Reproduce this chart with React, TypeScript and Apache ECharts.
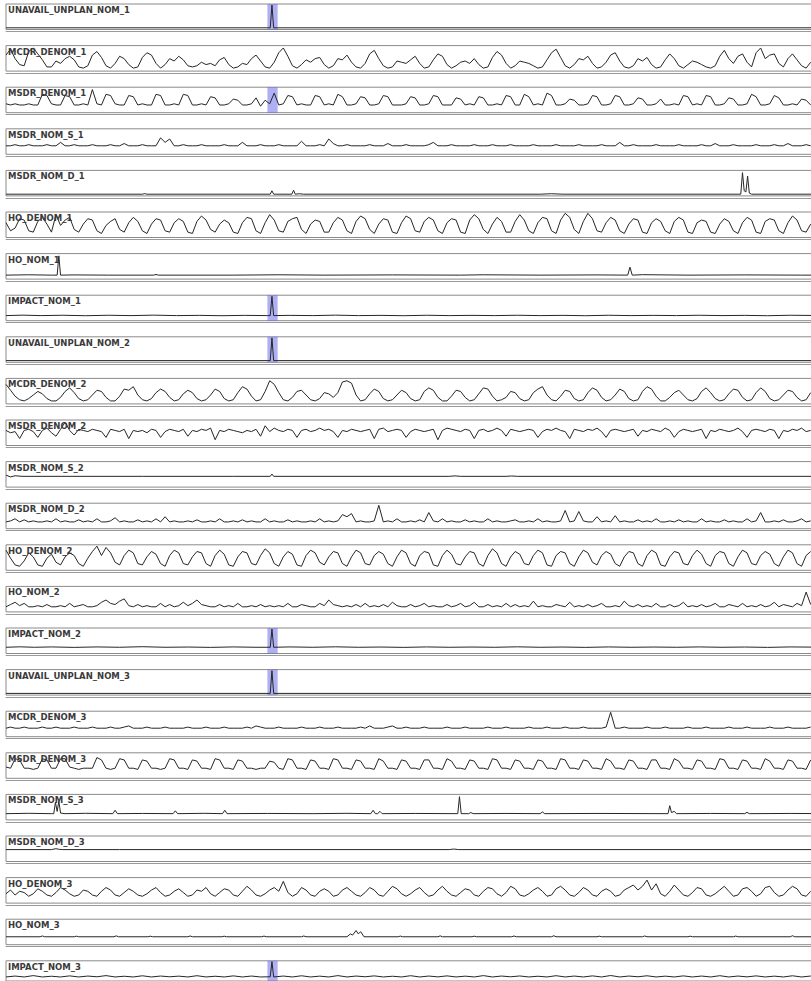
import React, { useEffect, useRef } from 'react';
import * as echarts from 'echarts';

// ---------- data ----------
const STEP = 4; // hours between samples in the dense series
const X_MAX = 725;
const BAND: [number, number] = [230, 239];

const PANEL_NAMES = [
  'UNAVAIL_UNPLAN_NOM_1', 'MCDR_DENOM_1', 'MSDR_DENOM_1', 'MSDR_NOM_S_1', 'MSDR_NOM_D_1', 'HO_DENOM_1',
  'HO_NOM_1', 'IMPACT_NOM_1', 'UNAVAIL_UNPLAN_NOM_2', 'MCDR_DENOM_2', 'MSDR_DENOM_2', 'MSDR_NOM_S_2',
  'MSDR_NOM_D_2', 'HO_DENOM_2', 'HO_NOM_2', 'IMPACT_NOM_2', 'UNAVAIL_UNPLAN_NOM_3', 'MCDR_DENOM_3',
  'MSDR_DENOM_3', 'MSDR_NOM_S_3', 'MSDR_NOM_D_3', 'HO_DENOM_3', 'HO_NOM_3', 'IMPACT_NOM_3',
];

const BAND_PANELS = ['UNAVAIL_UNPLAN_NOM_1', 'MSDR_DENOM_1', 'IMPACT_NOM_1', 'UNAVAIL_UNPLAN_NOM_2', 'IMPACT_NOM_2', 'UNAVAIL_UNPLAN_NOM_3', 'IMPACT_NOM_3'];

const Y_RANGES: [number, number][] = [
  [-1.5, 21], [-1.5, 20], [-1.5, 20], [-1.5, 21], [-1.5, 21], [-1, 18],
  [-1.5, 21], [-1.5, 21], [-1.5, 21], [-1.5, 20], [-1, 21], [-1.5, 21],
  [-3.5, 21], [-1, 18], [-1.5, 21], [-1.5, 21], [-1.5, 21], [-1.5, 21],
  [-1.5, 20], [-1.5, 21], [-1.5, 21], [-1.5, 19], [-1.5, 21], [-1.5, 21],
];

// sparse series: [hour, value]
const UNAVAIL_UNPLAN_NOM_1 = [[0, 0], [232.5, 0], [234, 20], [235.5, 0], [725, 0]];
const UNAVAIL_UNPLAN_NOM_2 = [[0, 0], [232.5, 0], [234, 20], [235.5, 0], [725, 0]];
const UNAVAIL_UNPLAN_NOM_3 = [[0, 0], [232.5, 0], [234, 20], [235.5, 0], [725, 0]];

const MSDR_NOM_D_1 = [[0, 0], [120, 0], [122, 0.5], [124, 0], [232.5, 0], [234, 3], [235.5, 0], [251.5, 0], [253, 3.5], [254.5, 0],
  [258, 0.4], [262, 0], [470, 0], [480, 0.4], [490, 0], [646.5, 0], [648, 19], [649.5, 3], [651, 2], [652.5, 16], [654, 1], [656, 0], [725, 0]];

const HO_NOM_1 = [[0, 2], [20, 2.3], [40, 2], [45, 2], [46.5, 19], [48, 2], [60, 2.2], [90, 2], [130, 2], [132, 2.6], [134, 2], [200, 2],
  [240, 2.3], [280, 2], [340, 2.2], [400, 2], [420, 2.3], [470, 2], [520, 2.2], [547, 2], [549, 9], [551, 2], [560, 2.4], [600, 2],
  [650, 2.2], [700, 2], [725, 2]];

const IMPACT_NOM_1 = [[0, 3], [15, 3.4], [30, 3], [50, 3.3], [70, 2.9], [90, 3.3], [110, 3], [130, 3.4], [150, 3], [170, 3.2], [190, 2.9],
  [210, 3.2], [230, 3], [232.5, 3], [234, 20], [235.5, 3], [250, 3.2], [270, 3], [290, 3.4], [310, 3], [330, 3.2], [350, 2.9], [370, 3.3],
  [390, 3], [410, 3.2], [430, 3], [450, 3.3], [470, 3], [490, 3.2], [510, 2.9], [530, 3.3], [550, 3], [570, 3.2], [590, 3], [610, 3.3],
  [630, 3], [650, 3.2], [670, 2.9], [690, 3.3], [725, 3]];

const IMPACT_NOM_2 = [[0, 4], [12, 4.4], [25, 4], [40, 4.3], [60, 3.9], [80, 4.3], [100, 4], [120, 4.5], [140, 4], [160, 4.2], [180, 3.9],
  [200, 4.3], [220, 4], [232.5, 4], [234, 20], [235.5, 4], [250, 4.3], [270, 4], [290, 4.4], [310, 4], [330, 4.2], [350, 3.9], [370, 4.3],
  [390, 4], [410, 4.2], [430, 4], [450, 4.4], [470, 4], [490, 4.2], [510, 3.9], [530, 4.3], [550, 4], [570, 4.2], [590, 4], [610, 4.3],
  [630, 4], [650, 4.2], [670, 3.9], [690, 4.3], [725, 4]];

const IMPACT_NOM_3 = [[0, 3], [8, 4], [16, 3], [24, 4.5], [32, 3], [40, 3.8], [48, 3], [56, 4.2], [64, 3], [72, 4], [80, 3.2], [88, 4.5],
  [96, 3], [104, 3.8], [112, 3], [120, 4.3], [128, 3], [136, 4], [144, 3.2], [152, 3.9], [160, 3], [168, 4.4], [176, 3], [184, 3.8],
  [192, 3], [200, 4.2], [208, 3], [216, 4], [224, 3], [232.5, 3.2], [234, 20], [235.5, 3], [244, 4], [252, 3], [260, 4.3], [268, 3],
  [276, 3.9], [284, 3], [292, 4.5], [300, 3], [308, 4], [316, 3.2], [324, 4.2], [332, 3], [340, 3.8], [348, 3], [356, 4.4], [364, 3],
  [372, 4], [380, 3.1], [388, 4.2], [396, 3], [404, 3.9], [412, 3], [420, 4.5], [428, 3], [436, 4], [444, 3.2], [452, 4.1], [460, 3],
  [468, 3.8], [476, 3], [484, 4.4], [492, 3], [500, 4], [508, 3], [516, 4.2], [524, 3], [532, 4.6], [540, 3], [548, 4], [556, 3.2],
  [564, 4.3], [572, 3], [580, 3.9], [588, 3], [596, 4.2], [604, 3], [612, 4], [620, 3], [628, 4.4], [636, 3], [644, 4], [652, 3.1],
  [660, 4.2], [668, 3], [676, 3.9], [684, 3], [692, 4.3], [700, 3], [708, 4], [725, 3]];

const MSDR_NOM_S_2 = [[0, 9], [4, 7.5], [8, 8.5], [14, 8], [120, 8], [200, 8], [232.5, 8], [234, 10], [235.5, 8], [390, 8], [395, 8.4],
  [400, 8], [440, 8], [445, 8.3], [450, 8], [725, 8]];

const MSDR_NOM_D_3 = [[0, 9], [40, 9], [44, 9.8], [47, 9.2], [50, 9], [100, 9], [390, 9], [394, 9.5], [398, 9], [725, 9]];

const HO_NOM_3 = [[0, 5.5], [30, 5.5], [32, 6.2], [34, 5.5], [60, 5.5], [62, 6], [64, 5.5], [95, 5.5], [97, 6.3], [99, 5.5], [125, 5.5],
  [127, 6], [129, 5.5], [160, 5.5], [162, 6.2], [164, 5.5], [190, 5.5], [192, 6], [194, 5.5], [225, 5.5], [227, 6.1], [229, 5.5],
  [260, 5.5], [262, 6.2], [264, 5.5], [300, 5.5], [303, 8], [305, 7], [308, 11], [310, 8], [312, 10], [315, 5.5], [345, 5.5],
  [347, 6.1], [349, 5.5], [380, 5.5], [382, 6.3], [384, 5.5], [410, 5.5], [412, 6], [414, 5.5], [445, 5.5], [447, 6.2], [449, 5.5],
  [480, 5.5], [482, 6.4], [484, 5.5], [520, 5.5], [522, 6], [524, 5.5], [560, 5.5], [562, 6.2], [564, 5.5], [600, 5.5], [602, 6],
  [604, 5.5], [640, 5.5], [642, 6.1], [644, 5.5], [690, 5.5], [692, 6.4], [694, 5.5], [725, 5.5]];

const MSDR_NOM_S_3 = [[0, 4], [20, 4.3], [40, 4], [42, 4], [43.5, 14], [45, 6], [46.5, 15], [48, 4.5], [52, 4], [70, 4.3], [94, 4],
  [96, 7], [98, 4], [120, 4.2], [147, 4], [149, 6.5], [151, 4], [175, 4.3], [190.5, 4], [192.5, 7], [194.5, 4], [230, 4.2], [270, 4],
  [300, 4.3], [321, 4], [323, 7], [325, 4], [327, 4], [329, 6], [331, 4], [360, 4.2], [397.5, 4], [399, 19], [400.5, 4], [407, 4],
  [409, 5], [411, 4], [440, 4.2], [470, 4], [472, 5.5], [474, 4], [520, 4.2], [582.5, 4], [584, 11], [585.5, 5], [588, 6], [590, 4],
  [620, 4.2], [650, 4], [652, 5.2], [654, 4], [690, 4.2], [725, 4]];

// dense series: one value every STEP hours
const MCDR_DENOM_1 = [
  12, 17, 9, 4, 3, 15, 18, 13, 8, 2, 2, 7, 5, 9, 11, 8, 2, 1, 3, 12,
  15, 10, 3, 1, 5, 11, 9, 4, 1, 2, 10, 14, 12, 5, 1, 4, 9, 7, 11, 8,
  3, 2, 3, 6, 4, 5, 3, 8, 10, 4, 1, 2, 5, 4, 9, 12, 7, 2, 1, 6,
  14, 18, 11, 3, 1, 4, 8, 6, 9, 10, 4, 1, 3, 9, 8, 12, 6, 2, 1, 5,
  13, 16, 9, 3, 1, 2, 7, 6, 5, 8, 11, 5, 1, 2, 8, 13, 11, 4, 1, 3,
  6, 7, 5, 9, 4, 1, 2, 10, 15, 12, 5, 1, 3, 7, 6, 5, 3, 1, 2, 8,
  14, 17, 10, 3, 1, 4, 9, 8, 11, 5, 1, 2, 6, 12, 14, 7, 2, 1, 3, 9,
  7, 10, 4, 1, 2, 8, 13, 9, 3, 1, 4, 7, 6, 4, 2, 1, 3, 11, 16, 9,
  5, 11, 13, 6, 2, 14, 18, 9, 12, 13, 5, 2, 9, 13, 8, 3, 1, 6,
];

const MSDR_DENOM_1 = [
  6, 5, 6, 5, 5, 6, 5, 5, 14, 13, 6, 5, 5, 13, 12, 5, 5, 6, 5, 18,
  6, 5, 14, 13, 6, 5, 5, 13, 12, 5, 6, 5, 5, 14, 13, 5, 5, 6, 5, 14,
  13, 5, 5, 6, 5, 12, 11, 5, 5, 6, 10, 9, 5, 5, 6, 11, 4, 9, 6, 15,
  5, 6, 13, 12, 5, 6, 5, 5, 13, 12, 5, 6, 5, 14, 12, 5, 5, 6, 12, 11,
  5, 5, 6, 13, 12, 5, 5, 5, 6, 12, 11, 5, 5, 6, 13, 12, 5, 5, 5, 11,
  10, 5, 6, 5, 12, 11, 5, 5, 6, 5, 13, 12, 5, 5, 14, 12, 5, 6, 5, 15,
  13, 5, 5, 6, 10, 9, 5, 5, 6, 13, 12, 5, 5, 6, 13, 12, 5, 5, 6, 11,
  10, 5, 5, 6, 10, 5, 5, 6, 5, 13, 12, 5, 6, 5, 13, 12, 5, 5, 6, 11,
  10, 5, 5, 6, 14, 12, 5, 5, 6, 13, 11, 5, 5, 6, 5, 10, 9, 5,
];

const MSDR_NOM_S_1 = [
  6, 6, 7, 6, 6, 7, 6, 6, 6, 7, 6, 6, 9, 6, 6, 7, 6, 6, 6, 7,
  6, 6, 6, 7, 6, 6, 8, 6, 6, 6, 7, 6, 6, 6, 13, 9, 12, 6, 6, 7,
  6, 6, 6, 7, 6, 6, 6, 6, 7, 6, 6, 6, 9, 6, 6, 6, 7, 6, 6, 6,
  7, 6, 6, 6, 6, 10, 6, 6, 6, 7, 6, 12, 8, 6, 6, 7, 6, 6, 6, 6,
  7, 6, 6, 6, 8, 6, 6, 6, 7, 6, 6, 6, 6, 7, 9, 6, 6, 6, 7, 6,
  6, 6, 6, 7, 6, 6, 6, 7, 6, 6, 6, 7, 6, 6, 6, 6, 7, 6, 6, 6,
  6, 7, 6, 6, 6, 6, 7, 6, 6, 6, 6, 7, 6, 6, 6, 9, 6, 6, 7, 6,
  6, 6, 6, 7, 6, 6, 6, 6, 7, 6, 6, 6, 6, 7, 6, 6, 8, 6, 6, 6,
  7, 6, 6, 6, 6, 7, 6, 6, 6, 7, 6, 6, 8, 6, 6, 6, 7, 6,
];

const HO_DENOM_1 = [
  10, 4, 6, 13, 12, 4, 3, 11, 14, 9, 3, 16, 8, 12, 14, 5, 3, 9, 13, 12,
  4, 2, 8, 11, 13, 5, 3, 10, 14, 11, 4, 2, 9, 13, 12, 4, 3, 10, 13, 11,
  3, 2, 11, 15, 12, 5, 3, 9, 12, 10, 3, 2, 10, 14, 13, 4, 2, 10, 16, 12,
  4, 3, 11, 13, 14, 5, 2, 9, 12, 11, 3, 3, 10, 14, 12, 4, 2, 11, 15, 13,
  5, 2, 9, 13, 12, 3, 2, 10, 15, 13, 4, 3, 11, 14, 12, 4, 2, 10, 13, 12,
  3, 2, 12, 16, 13, 5, 2, 9, 14, 11, 3, 3, 11, 16, 12, 4, 2, 10, 14, 13,
  4, 2, 12, 17, 14, 5, 2, 11, 17, 13, 4, 3, 10, 14, 12, 4, 2, 9, 13, 12,
  3, 2, 10, 13, 11, 4, 2, 11, 14, 12, 3, 2, 10, 12, 11, 3, 2, 9, 13, 11,
  4, 2, 10, 14, 12, 3, 2, 11, 13, 12, 4, 2, 10, 15, 12, 4, 3, 9,
];

const MCDR_DENOM_2 = [
  15, 10, 5, 2, 1, 3, 6, 9, 7, 3, 1, 1, 4, 9, 12, 8, 3, 1, 2, 6,
  10, 9, 4, 1, 1, 5, 11, 10, 13, 6, 2, 1, 3, 8, 11, 9, 4, 1, 2, 7,
  10, 8, 3, 1, 2, 6, 11, 9, 3, 1, 2, 8, 13, 11, 5, 1, 2, 9, 18, 15,
  8, 2, 1, 4, 9, 10, 6, 2, 1, 3, 8, 7, 4, 8, 17, 18, 16, 6, 1, 2,
  7, 11, 9, 3, 1, 2, 6, 10, 8, 3, 1, 2, 9, 12, 10, 4, 1, 1, 5, 10,
  9, 4, 1, 2, 7, 12, 11, 5, 1, 2, 4, 9, 8, 3, 1, 2, 8, 11, 13, 6,
  2, 1, 5, 10, 9, 3, 1, 2, 8, 12, 10, 4, 1, 2, 6, 11, 9, 3, 1, 2,
  9, 13, 11, 5, 1, 1, 4, 8, 10, 6, 2, 1, 3, 9, 12, 8, 3, 1, 2, 7,
  11, 10, 4, 1, 2, 8, 12, 9, 3, 1, 2, 6, 10, 9, 4, 1, 2, 8,
];

const MSDR_DENOM_2 = [
  12, 10, 11, 5, 12, 13, 11, 6, 12, 14, 10, 7, 13, 19, 12, 8, 13, 12, 11, 13,
  12, 11, 6, 13, 12, 11, 13, 5, 12, 11, 12, 10, 13, 12, 6, 11, 13, 12, 11, 13,
  7, 12, 11, 13, 12, 14, 4, 12, 11, 13, 12, 11, 10, 12, 11, 13, 7, 16, 11, 14,
  12, 11, 13, 12, 6, 12, 13, 11, 12, 14, 12, 13, 11, 6, 12, 11, 13, 12, 11, 12,
  13, 5, 13, 14, 11, 12, 13, 12, 6, 11, 13, 12, 11, 12, 13, 4, 12, 14, 13, 12,
  11, 13, 12, 5, 12, 13, 11, 12, 14, 12, 7, 13, 12, 11, 12, 13, 12, 6, 11, 13,
  12, 14, 12, 11, 5, 13, 12, 11, 13, 12, 14, 11, 6, 12, 13, 12, 11, 12, 13, 7,
  12, 11, 13, 12, 11, 14, 12, 6, 11, 13, 12, 11, 12, 13, 5, 12, 11, 13, 12, 11,
  12, 14, 11, 6, 12, 13, 12, 11, 13, 12, 5, 12, 11, 13, 12, 14, 11, 12,
];

const MSDR_NOM_D_2 = [
  3, 4, 6, 3, 5, 3, 4, 3, 3, 4, 3, 6, 3, 4, 3, 3, 5, 3, 4, 3,
  6, 3, 3, 4, 7, 3, 4, 3, 3, 5, 3, 4, 3, 6, 3, 8, 3, 4, 3, 3,
  4, 3, 5, 3, 3, 4, 3, 6, 3, 3, 4, 3, 5, 3, 4, 3, 3, 6, 3, 4,
  3, 3, 5, 3, 4, 3, 3, 4, 3, 6, 3, 4, 3, 4, 10, 8, 11, 3, 4, 3,
  3, 4, 19, 3, 4, 3, 6, 3, 3, 4, 3, 5, 3, 12, 4, 3, 6, 3, 4, 3,
  3, 5, 3, 4, 3, 3, 6, 3, 4, 3, 3, 4, 5, 3, 3, 4, 3, 6, 3, 4,
  3, 3, 4, 14, 3, 4, 13, 4, 3, 3, 8, 3, 4, 3, 9, 3, 4, 3, 3, 5,
  3, 4, 3, 6, 3, 3, 4, 3, 5, 3, 4, 3, 3, 6, 3, 4, 3, 3, 5, 3,
  4, 3, 3, 6, 3, 4, 12, 3, 3, 4, 3, 5, 3, 3, 4, 6, 3, 4,
];

const HO_DENOM_2 = [
  14, 8, 3, 2, 6, 12, 9, 3, 2, 8, 11, 5, 3, 9, 12, 10, 4, 2, 8, 13,
  17, 10, 16, 12, 5, 3, 10, 14, 12, 4, 3, 9, 13, 11, 4, 2, 10, 14, 12, 4,
  3, 9, 13, 12, 4, 2, 10, 14, 11, 3, 2, 9, 13, 12, 4, 3, 10, 15, 12, 4,
  2, 9, 13, 11, 3, 2, 10, 14, 12, 5, 3, 9, 13, 12, 4, 2, 9, 14, 12, 4,
  3, 10, 13, 11, 4, 2, 9, 14, 12, 4, 2, 10, 13, 12, 3, 2, 10, 14, 11, 4,
  3, 9, 13, 12, 4, 2, 10, 15, 12, 4, 2, 9, 13, 11, 4, 3, 10, 14, 12, 3,
  2, 10, 13, 12, 4, 2, 9, 14, 12, 5, 3, 10, 13, 11, 4, 2, 9, 13, 12, 4,
  2, 10, 14, 12, 3, 2, 9, 13, 12, 4, 3, 10, 14, 11, 4, 2, 10, 13, 12, 4,
  2, 9, 14, 12, 4, 3, 10, 13, 11, 4, 2, 9, 14, 12, 4, 2, 10, 13,
];

const HO_NOM_2 = [
  3, 5, 7, 4, 6, 3, 3, 4, 3, 5, 3, 3, 4, 3, 6, 3, 4, 5, 3, 3,
  4, 7, 9, 6, 5, 8, 10, 4, 3, 5, 3, 4, 3, 3, 6, 3, 5, 3, 4, 7,
  4, 6, 9, 5, 4, 3, 3, 5, 3, 4, 3, 6, 3, 3, 4, 3, 5, 3, 4, 3,
  4, 3, 6, 3, 3, 5, 4, 3, 3, 6, 4, 9, 5, 4, 3, 4, 3, 5, 3, 6,
  3, 4, 3, 5, 3, 7, 4, 3, 3, 5, 3, 4, 6, 3, 4, 3, 3, 5, 3, 4,
  6, 3, 4, 7, 3, 3, 5, 3, 4, 3, 6, 3, 5, 3, 4, 3, 8, 3, 4, 3,
  3, 5, 4, 3, 7, 3, 4, 3, 5, 3, 4, 6, 3, 3, 4, 3, 8, 4, 3, 5,
  3, 4, 3, 6, 3, 3, 5, 3, 4, 7, 3, 4, 3, 5, 3, 4, 6, 3, 3, 5,
  4, 3, 6, 3, 4, 3, 5, 3, 4, 7, 3, 5, 4, 3, 6, 4, 16, 5,
];

const MCDR_DENOM_3 = [
  6, 7, 6, 6, 7, 6, 6, 6, 7, 6, 6, 7, 6, 6, 6, 7, 6, 6, 6, 7,
  6, 6, 6, 7, 6, 6, 7, 8, 6, 6, 6, 7, 6, 6, 6, 7, 6, 6, 6, 6,
  7, 6, 6, 6, 7, 6, 6, 6, 7, 6, 6, 6, 6, 7, 6, 8, 7, 6, 6, 6,
  7, 6, 6, 6, 6, 7, 6, 6, 6, 7, 6, 6, 6, 7, 6, 6, 6, 6, 7, 6,
  8, 6, 6, 6, 7, 8, 6, 6, 7, 6, 6, 6, 7, 6, 6, 6, 6, 7, 6, 6,
  6, 7, 6, 6, 6, 6, 7, 6, 6, 6, 7, 6, 6, 6, 6, 7, 6, 6, 6, 7,
  6, 6, 6, 7, 6, 6, 6, 7, 6, 6, 6, 6, 7, 20, 6, 6, 7, 6, 6, 6,
  6, 7, 6, 6, 6, 7, 6, 6, 6, 6, 7, 6, 6, 6, 7, 6, 6, 6, 6, 7,
  6, 6, 6, 7, 6, 6, 6, 6, 7, 6, 6, 6, 7, 6, 6, 6, 6, 7,
];

const MSDR_DENOM_3 = [
  8, 7, 15, 14, 7, 7, 6, 7, 15, 14, 7, 7, 15, 15, 8, 7, 6, 7, 7, 7,
  16, 14, 7, 6, 7, 15, 14, 7, 7, 6, 14, 13, 7, 7, 6, 7, 15, 14, 7, 7,
  6, 14, 13, 7, 7, 6, 15, 14, 7, 7, 6, 14, 13, 7, 7, 6, 7, 7, 13, 12,
  7, 6, 15, 14, 7, 7, 6, 14, 13, 7, 7, 6, 15, 14, 7, 7, 6, 14, 13, 7,
  7, 6, 15, 13, 7, 7, 6, 14, 13, 7, 7, 6, 14, 14, 7, 7, 6, 15, 13, 7,
  7, 6, 14, 13, 7, 7, 6, 15, 14, 7, 7, 6, 14, 13, 7, 7, 6, 14, 13, 7,
  7, 6, 15, 14, 7, 7, 6, 14, 13, 7, 7, 6, 15, 13, 7, 7, 6, 14, 13, 7,
  7, 6, 14, 14, 7, 7, 6, 15, 13, 7, 7, 6, 14, 13, 7, 7, 6, 15, 14, 7,
  7, 6, 14, 13, 7, 7, 6, 15, 13, 7, 7, 6, 14, 13, 7, 7, 6, 14,
];

const HO_DENOM_3 = [
  6, 9, 5, 8, 7, 4, 6, 10, 8, 5, 4, 7, 11, 9, 6, 4, 5, 9, 8, 5,
  4, 8, 11, 9, 5, 4, 7, 10, 8, 5, 4, 6, 9, 11, 7, 4, 5, 8, 10, 7,
  4, 5, 9, 8, 11, 6, 4, 7, 10, 9, 5, 4, 8, 12, 9, 5, 4, 6, 9, 11,
  8, 16, 7, 4, 6, 11, 9, 5, 4, 8, 10, 8, 4, 5, 9, 11, 8, 5, 4, 7,
  11, 9, 5, 4, 8, 12, 10, 6, 4, 6, 9, 11, 7, 4, 5, 9, 12, 8, 5, 4,
  7, 10, 9, 5, 4, 8, 11, 10, 6, 4, 7, 12, 10, 5, 4, 6, 9, 11, 8, 4,
  5, 10, 12, 9, 5, 4, 7, 11, 9, 5, 4, 8, 10, 8, 4, 5, 9, 11, 13, 9,
  12, 17, 9, 14, 6, 4, 8, 13, 9, 5, 4, 7, 11, 10, 5, 4, 6, 9, 12, 8,
  4, 5, 10, 11, 8, 4, 6, 11, 12, 7, 4, 5, 9, 12, 10, 5, 4, 8,
];

const dense = (vals: number[]) => vals.map((v, i) => [i * STEP, v]);

const SERIES_DATA: Record<string, number[][]> = {
  UNAVAIL_UNPLAN_NOM_1, MCDR_DENOM_1: dense(MCDR_DENOM_1), MSDR_DENOM_1: dense(MSDR_DENOM_1),
  MSDR_NOM_S_1: dense(MSDR_NOM_S_1), MSDR_NOM_D_1, HO_DENOM_1: dense(HO_DENOM_1), HO_NOM_1, IMPACT_NOM_1,
  UNAVAIL_UNPLAN_NOM_2, MCDR_DENOM_2: dense(MCDR_DENOM_2), MSDR_DENOM_2: dense(MSDR_DENOM_2), MSDR_NOM_S_2,
  MSDR_NOM_D_2: dense(MSDR_NOM_D_2), HO_DENOM_2: dense(HO_DENOM_2), HO_NOM_2: dense(HO_NOM_2), IMPACT_NOM_2,
  UNAVAIL_UNPLAN_NOM_3, MCDR_DENOM_3: dense(MCDR_DENOM_3), MSDR_DENOM_3: dense(MSDR_DENOM_3), MSDR_NOM_S_3,
  MSDR_NOM_D_3, HO_DENOM_3: dense(HO_DENOM_3), HO_NOM_3, IMPACT_NOM_3,
};

// ---------- layout ----------
const VIEW_W = 811;
const VIEW_H = 981;
const CHART_W = 830; // panels run past the right edge of the page
const TOP0 = 4;
const PITCH = 41.6;
const PANEL_H = 25.5;
const LEFT = 6;

export default function App() {
  const ref = useRef<HTMLDivElement>(null);

  useEffect(() => {
    if (!ref.current) return;
    const chart = echarts.init(ref.current, undefined, { renderer: 'svg' });

    const grid: any[] = [];
    const xAxis: any[] = [];
    const yAxis: any[] = [];
    const series: any[] = [];
    const title: any[] = [];

    PANEL_NAMES.forEach((name, i) => {
      const top = TOP0 + i * PITCH;
      grid.push({ left: LEFT, right: 0, top, height: PANEL_H, show: true, borderColor: '#8a8a8a', borderWidth: 1, backgroundColor: 'transparent' });
      xAxis.push({
        type: 'value', gridIndex: i, min: 0, max: X_MAX, offset: 2,
        axisLine: { show: true, onZero: false, lineStyle: { color: '#9a9a9a', width: 1 } },
        axisTick: { show: false }, axisLabel: { show: false }, splitLine: { show: false },
      });
      yAxis.push({
        type: 'value', gridIndex: i, min: Y_RANGES[i][0], max: Y_RANGES[i][1],
        axisLine: { show: false }, axisTick: { show: false }, axisLabel: { show: false }, splitLine: { show: false },
      });
      const s: any = {
        type: 'line', xAxisIndex: i, yAxisIndex: i, data: SERIES_DATA[name],
        showSymbol: false, symbol: 'none', silent: true,
        lineStyle: { color: '#262626', width: 1 },
      };
      if (BAND_PANELS.includes(name)) {
        s.markArea = {
          silent: true,
          itemStyle: { color: 'rgba(95,95,232,0.5)' },
          data: [[{ xAxis: BAND[0] }, { xAxis: BAND[1] }]],
        };
      }
      series.push(s);
      title.push({
        text: name, left: LEFT + 2, top: top + 1.5, padding: 0,
        textStyle: { fontFamily: 'DejaVu Sans', fontSize: 8.5, fontWeight: 'bold', color: '#3a3a3a' },
      });
    });

    chart.setOption({ animation: false, backgroundColor: '#ffffff', title, grid, xAxis, yAxis, series });
    return () => chart.dispose();
  }, []);

  return (
    <div style={{ position: 'absolute', left: 0, top: 0, width: VIEW_W, height: VIEW_H, overflow: 'hidden' }}>
      <div ref={ref} style={{ width: CHART_W, height: VIEW_H }} />
    </div>
  );
}
